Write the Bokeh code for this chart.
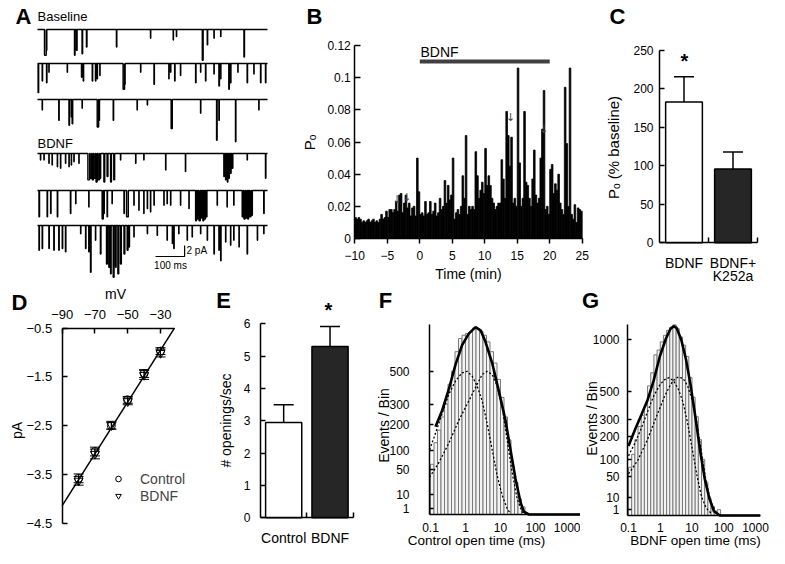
import math
from bokeh.plotting import figure
from bokeh.models import (Range1d, FixedTicker, CustomJSTickFormatter, Label,
                          ColumnDataSource, Whisker, TeeHead, Legend, LegendItem)
from bokeh.layouts import row, column
from bokeh.embed import file_html
from bokeh.resources import INLINE
from bokeh.core.properties import value

FONT = "Liberation Sans"

# ======================= DATA =======================
# Panel A: single-channel openings per sweep: (time ms, amplitude pA, duration ms)
sweep_len_ms = 790
baseline_1 = [(24, 4.7, 6), (30, 3.8, 2), (127, 4.7, 2), (134, 3.8, 2), (153, 4.4, 2), (168, 3.2, 2),
              (271, 3.2, 1.5), (388, 1.6, 1), (466, 1.9, 1), (477, 1.3, 1), (566, 5.6, 3), (583, 2.8, 1.5),
              (606, 1.6, 1), (629, 1.3, 1), (709, 5.0, 2)]
baseline_2 = [(2, 5.3, 2), (16, 3.2, 1.5), (31, 3.5, 1.5), (39, 1.6, 1), (102, 1.6, 1), (151, 2.5, 1.5),
              (157, 3.2, 1.5), (188, 3.2, 1.5), (199, 3.2, 1.5), (205, 2.8, 1), (214, 2.2, 1), (294, 4.7, 5),
              (299, 3.8, 2), (354, 1.6, 1), (400, 3.8, 1.5), (451, 2.8, 1), (457, 1.6, 1), (471, 3.2, 1.5),
              (491, 2.2, 1), (543, 3.5, 1.5), (560, 1.6, 1), (577, 3.2, 1.5), (606, 1.9, 1), (623, 4.1, 2),
              (629, 2.8, 1), (657, 4.7, 2), (663, 3.5, 1.5), (688, 1.6, 1), (720, 3.5, 1.5), (743, 1.9, 1),
              (766, 3.5, 1.5), (783, 3.5, 1.5)]
baseline_3 = [(16, 1.9, 1), (73, 3.8, 1.5), (108, 4.7, 2), (116, 3.2, 1.5), (119, 4.4, 2), (153, 1.6, 1),
              (205, 5.0, 5), (211, 3.8, 2), (260, 3.8, 1.5), (342, 1.9, 1), (377, 1.0, 1), (459, 5.3, 4),
              (560, 2.5, 1), (615, 7.4, 2), (623, 3.8, 1.5), (680, 7.7, 1.5), (760, 1.9, 1)]
bdnf_1 = [(10, 1.2, 1), (22, 1.2, 1), (39, 1.8, 1), (50, 2.1, 1), (68, 2.4, 1), (79, 2.7, 1), (96, 1.8, 1),
          (108, 2.4, 1), (116, 2.1, 1), (125, 1.5, 1), (142, 1.8, 1), (173, 4.8, 6), (181, 4.5, 5),
          (188, 4.8, 4), (194, 4.5, 5), (201, 5.2, 4), (208, 4.8, 5), (214, 4.5, 3), (228, 5.2, 3),
          (239, 4.2, 3), (251, 5.2, 3), (262, 4.8, 3), (285, 1.2, 1), (337, 1.8, 1), (365, 1.2, 1),
          (440, 3.0, 1), (508, 3.3, 1), (640, 4.2, 2), (646, 4.8, 2), (652, 5.2, 2), (657, 4.5, 2),
          (663, 3.6, 2), (669, 2.7, 2), (720, 1.2, 1), (783, 4.5, 1.5)]
bdnf_2 = [(5, 4.8, 2), (33, 4.8, 1.5), (45, 4.2, 1.5), (68, 4.8, 1.5), (113, 4.2, 1.5), (131, 2.4, 1),
          (176, 3.0, 1), (222, 5.2, 4), (228, 4.2, 1.5), (239, 4.8, 1.5), (256, 2.4, 1), (297, 4.2, 1.5),
          (306, 4.8, 6), (331, 2.7, 1), (348, 3.6, 1), (365, 4.2, 1), (377, 3.3, 1), (388, 3.9, 1),
          (400, 2.7, 1), (434, 2.7, 1), (445, 2.4, 1), (457, 2.7, 1), (491, 2.7, 1), (520, 3.3, 1),
          (543, 5.5, 3), (549, 5.2, 3), (555, 5.5, 4), (562, 5.0, 3), (568, 5.5, 3), (574, 5.2, 3),
          (580, 4.8, 2), (617, 2.7, 1), (651, 3.0, 1), (674, 2.7, 1), (703, 4.8, 4), (709, 5.2, 4),
          (716, 5.0, 4), (722, 5.2, 3), (729, 4.8, 4), (735, 4.5, 3), (777, 4.2, 1.5)]
bdnf_3 = [(5, 4.5, 1.5), (16, 4.2, 1.5), (39, 4.2, 1.5), (56, 4.5, 1.5), (73, 4.5, 1.5), (85, 4.2, 1.5),
          (96, 4.8, 1.5), (148, 1.5, 1), (165, 4.2, 1.5), (176, 4.8, 1.5), (182, 8.5, 2), (199, 2.7, 1),
          (216, 5.2, 2), (237, 7.0, 3), (245, 7.6, 3), (251, 8.8, 2), (260, 9.4, 3), (268, 7.6, 2),
          (276, 8.8, 3), (285, 7.0, 3), (297, 5.2, 3), (308, 4.5, 3), (314, 3.9, 2), (331, 2.1, 1),
          (377, 1.5, 1), (411, 1.8, 1), (445, 2.7, 1), (463, 3.3, 1), (468, 4.2, 1.5), (485, 1.5, 1),
          (514, 2.7, 1), (531, 2.1, 1), (560, 1.5, 1), (583, 2.7, 1), (606, 5.2, 1.5), (623, 4.5, 1.5),
          (629, 6.4, 1.5), (646, 3.0, 1), (663, 3.6, 1), (674, 2.7, 1), (692, 3.9, 1), (720, 5.2, 1.5),
          (755, 2.7, 1), (777, 1.5, 1)]
sweeps = [baseline_1, baseline_2, baseline_3, bdnf_1, bdnf_2, bdnf_3]
scale_ms = 100
scale_pA = 2

# Panel B: open probability in 0.25-min bins from -10 min
po_start_min = -10
po_bin_min = 0.25
po_values = [
    0.013, 0.012, 0.013, 0.012, 0.010, 0.011, 0.010, 0.011, 0.012, 0.010, 0.011, 0.012,
    0.010, 0.011, 0.010, 0.012, 0.015, 0.012, 0.013, 0.017, 0.013, 0.018, 0.018, 0.016,
    0.018, 0.023, 0.017, 0.027, 0.028, 0.016, 0.022, 0.027, 0.019, 0.022, 0.014, 0.019,
    0.020, 0.014, 0.050, 0.029, 0.015, 0.016, 0.014, 0.023, 0.015, 0.016, 0.023, 0.015,
    0.017, 0.022, 0.014, 0.016, 0.025, 0.018, 0.020, 0.036, 0.022, 0.033, 0.024, 0.027,
    0.050, 0.012, 0.016, 0.018, 0.015, 0.020, 0.039, 0.025, 0.064, 0.015, 0.020, 0.018,
    0.020, 0.018, 0.054, 0.039, 0.025, 0.030, 0.035, 0.028, 0.056, 0.033, 0.039, 0.033,
    0.025, 0.022, 0.018, 0.020, 0.022, 0.022, 0.049, 0.037, 0.025, 0.079, 0.064, 0.045,
    0.063, 0.022, 0.025, 0.020, 0.106, 0.047, 0.020, 0.025, 0.079, 0.035, 0.033, 0.025,
    0.020, 0.037, 0.055, 0.027, 0.022, 0.025, 0.050, 0.068, 0.092, 0.018, 0.020, 0.015,
    0.043, 0.046, 0.028, 0.034, 0.030, 0.040, 0.022, 0.018, 0.015, 0.094, 0.059, 0.020,
    0.106, 0.015, 0.012, 0.021, 0.010, 0.019, 0.018, 0.017]
bdnf_period_min = [0, 20]
arrow_t_min = [-3.5, -2.0, 14.0, 19.1]
arrow_po = [0.0205, 0.0215, 0.0715, 0.064]

# Panel C
c_groups = ["BDNF", "BDNF+\nK252a"]
c_mean = [183, 96]
c_sem = [33, 22]

# Panel D: I-V relation
iv_mv = [-80, -70, -60, -50, -40, -30]
iv_control = [-3.58, -3.03, -2.50, -1.97, -1.43, -0.97]
iv_control_err = [0.09, 0.09, 0.07, 0.07, 0.08, 0.07]
iv_bdnf = [-3.63, -3.08, -2.49, -2.00, -1.46, -1.01]
iv_bdnf_err = [0.09, 0.10, 0.08, 0.07, 0.09, 0.08]
iv_fit_mv = [-90, -21.5]
iv_fit_pa = [-4.14, -0.5]

# Panel E
e_groups = ["Control", "BDNF"]
e_mean = [2.95, 5.3]
e_sem = [0.55, 0.62]

# Panels F, G: open-time histograms (log bins from 0.1 ms, 10 per decade; sqrt ordinate)
hist_first_edge_ms = 0.1
hist_bins_per_decade = 10
f_counts = [62, 127, 175, 234, 300, 417, 505, 652, 762, 790, 805, 819, 854, 849, 825, 790, 733, 652,
            564, 449, 337, 234, 137, 58, 25, 6, 1.4]
f_fit_ms = [0.09, 0.139, 0.215, 0.334, 0.518, 0.80, 1.245, 1.93, 2.69, 3.72, 5.78, 8.95, 13.9, 19.3,
            26.9, 37.2, 46.5, 64.6, 372, 1900]
f_fit_n = [131, 189, 266, 386, 552, 706, 805, 863, 834, 733, 564, 376, 218, 103, 31, 3.8, 0.2, 0, 0, 0]
f_fast_ms = [0.094, 0.139, 0.215, 0.334, 0.518, 0.80, 1.117, 1.549, 2.153, 2.992, 4.159, 5.781, 8.035,
             11.17, 15.49, 19.32]
f_fast_n = [103, 162, 250, 356, 438, 494, 504, 471, 406, 318, 203, 103, 37, 9, 0.85, 0.02]
f_slow_ms = [0.094, 0.173, 0.334, 0.646, 1.245, 2.153, 2.992, 4.159, 5.781, 8.035, 11.17, 15.49, 21.53,
             29.92, 41.59, 51.76]
f_slow_n = [34, 66, 125, 218, 318, 417, 482, 504, 482, 406, 283, 137, 43, 6, 0.17, 0]
f_yticks = [1, 10, 50, 100, 200, 300, 500]
f_ymax = 885
f_xmax_ms = 1950

g_counts = [75, 121, 186, 256, 325, 392, 543, 658, 834, 885, 974, 1049, 1107, 1146, 1174, 1127, 1030,
            938, 817, 614, 452, 315, 186, 102, 36, 9.6, 2.7, 0.6, 1.1]
g_fit_ms = [0.1, 0.160, 0.251, 0.393, 0.617, 0.966, 1.514, 2.113, 2.649, 3.311, 4.645, 6.501, 9.12,
            12.74, 17.78, 25.1, 35.1, 49.0, 75.9, 1400]
g_fit_n = [156, 237, 325, 427, 585, 817, 1012, 1127, 1158, 1134, 993, 784, 543, 315, 141, 44, 9.6, 0.6, 0, 0]
g_fast_ms = [0.1, 0.160, 0.251, 0.393, 0.617, 0.966, 1.349, 1.892, 2.649, 3.715, 5.200, 7.278, 10.23,
             14.29, 19.95, 27.99, 39.17]
g_fast_n = [115, 170, 245, 345, 460, 550, 595, 614, 585, 516, 416, 275, 141, 52, 11.5, 1.8, 0.2]
g_slow_ms = [0.1, 0.2, 0.393, 0.771, 1.349, 2.113, 2.951, 3.715, 5.200, 7.278, 10.23, 14.29, 19.95,
             27.99, 39.17, 54.95, 68.5]
g_slow_n = [56, 100, 185, 320, 455, 555, 605, 619, 608, 543, 427, 275, 128, 36, 6.3, 0.57, 0]
g_yticks = [1, 10, 50, 100, 200, 300, 500, 1000]
g_ymax = 1175
g_xmax_ms = 1400
x_ticks_ms = [0.1, 1, 10, 100, 1000]


# ======================= HELPERS =======================
class Panel:
    """A figure whose frame fills its whole box; two anchor points per axis map picture px to data."""

    def __init__(self, box, xa, xb, ya, yb, xlog=False, axes=True, x_axis_location="below"):
        X0, Y0, W, H = box
        self.xlog = xlog
        f = math.log10 if xlog else (lambda v: v)
        self.kx = (f(xb[1]) - f(xa[1])) / (xb[0] - xa[0])
        self.xa = (xa[0], f(xa[1]))
        self.ky = (yb[1] - ya[1]) / (yb[0] - ya[0])
        self.ya = ya
        xr = Range1d(self.dx(X0), self.dx(X0 + W))
        yr = Range1d(self.dy(Y0 + H), self.dy(Y0))
        kw = {}
        if not axes:
            kw = dict(x_axis_type=None, y_axis_type=None)
        elif xlog:
            kw = dict(x_axis_type="log")
        self.p = figure(width=W, height=H, x_range=xr, y_range=yr, title=None,
                        min_border_left=0, min_border_right=0, min_border_top=0, min_border_bottom=0,
                        x_axis_location=x_axis_location,
                        output_backend="svg", toolbar_location=None, **kw)
        p = self.p
        p.outline_line_color = None
        p.background_fill_color = "white"
        p.border_fill_color = "white"
        p.xgrid.grid_line_color = None
        p.ygrid.grid_line_color = None

    def dx(self, rx):
        v = self.xa[1] + (rx - self.xa[0]) * self.kx
        return 10 ** v if self.xlog else v

    def px(self, x):
        return self.xa[0] + (x - self.xa[1]) / self.kx

    def dy(self, ry):
        return self.ya[1] + (ry - self.ya[0]) * self.ky

    def label(self, text, rx, ry, size="14px", bold=False, angle=0.0, align="center",
              baseline="middle", font=FONT):
        self.p.add_layout(Label(x=self.dx(rx), y=self.dy(ry), text=text, text_font=font,
                                text_font_size=size, text_font_style=("bold" if bold else "normal"),
                                angle=angle, text_align=align, text_baseline=baseline,
                                text_color="black"))


def style_axis(ax, at, bounds, size="12px", tin=0, tout=0, standoff=5):
    ax.fixed_location = at
    ax.bounds = bounds
    ax.axis_line_width = 1.5
    ax.axis_line_color = "black"
    ax.major_tick_line_width = 1.5
    ax.major_tick_line_color = "black"
    ax.major_tick_in = tin
    ax.major_tick_out = tout
    ax.minor_tick_line_color = None
    ax.major_label_text_font = FONT
    ax.major_label_text_font_size = size
    ax.major_label_text_color = "black"
    ax.major_label_standoff = standoff


def letter(pan, t, rx, ry):
    pan.label(t, rx, ry, size="22px", bold=True)


def category_axis(pan, ax, centers, groups, label_y, line_gap):
    ax.ticker = FixedTicker(ticks=centers, minor_ticks=[1, 2])
    ax.minor_tick_line_color = "black"
    ax.minor_tick_line_width = 1.5
    ax.minor_tick_in = 5
    ax.minor_tick_out = 0
    ax.major_label_overrides = {c: "" for c in centers}
    for c, g in zip(centers, groups):
        for j, part in enumerate(g.split("\n")):
            pan.label(part, pan.px(c), label_y + j * line_gap, size="14px")


# ======================= PANEL A =======================
A = Panel((0, 0, 300, 285), (37, 0), (267, sweep_len_ms), (8, 0), (63, -10), axes=False)
sweep_base_px = [29, 63, 99, 153, 190, 225]


def sweep_path(events, offset):
    xs, ys = [0.0], [offset]
    for t, a, d in sorted(events):
        xs += [t, t, t + d, t + d]
        ys += [offset, offset - a, offset - a, offset]
    xs.append(sweep_len_ms)
    ys.append(offset)
    return xs, ys


for ev, bpx in zip(sweeps, sweep_base_px):
    xs, ys = sweep_path(ev, A.dy(bpx))
    A.p.line(xs, ys, line_color="black", line_width=1.4)

sb_x, sb_y = A.dx(155), A.dy(256)
A.p.line([sb_x, sb_x + scale_ms, sb_x + scale_ms], [sb_y, sb_y, sb_y + scale_pA],
         line_color="black", line_width=1.2)
letter(A, "A", 23, 16)
A.label("Baseline", 37, 16, size="13px", align="left")
A.label("BDNF", 37, 143, size="13px", align="left")
A.label(f"{scale_pA} pA", 186, 250, size="10px", align="left")
A.label(f"{scale_ms} ms", 170, 265, size="10px")

# ======================= PANEL B =======================
B = Panel((300, 0, 300, 285), (354.3, -10), (581.7, 25), (238, 0), (45, 0.12))
pb = B.p
centers = [po_start_min + po_bin_min * (i + 0.5) for i in range(len(po_values))]
pb.vbar(x=centers, top=po_values, width=po_bin_min, fill_color="black", line_color="black",
        line_width=0.8)
bar_y = B.dy(61)
pb.segment(x0=[bdnf_period_min[0]], y0=[bar_y], x1=[bdnf_period_min[1]], y1=[bar_y],
           line_width=4, line_color="#404040")
pb.text(x=arrow_t_min, y=arrow_po, text=["\u2193"] * len(arrow_t_min), text_font=value("DejaVu Sans"),
        text_font_size="11px", text_align="center", text_baseline="bottom", text_color="#444444")
style_axis(pb.yaxis[0], -10, (0, 0.12), tin=6, tout=0, standoff=4)
pb.yaxis.ticker = FixedTicker(ticks=[0, 0.02, 0.04, 0.06, 0.08, 0.1, 0.12])
pb.yaxis.formatter = CustomJSTickFormatter(code="return String(Math.round(tick*1000)/1000)")
style_axis(pb.xaxis[0], 0, (-10, 25), tin=0, tout=5, standoff=7)
pb.xaxis.ticker = FixedTicker(ticks=[-10, -5, 0, 5, 10, 15, 20, 25])
letter(B, "B", 314, 16)
B.label("BDNF", 420, 51, size="14px", align="left")
B.label("Time (min)", 468, 273, size="14px")
B.label("P\u2092", 309, 142, size="15px", angle=math.pi / 2)

# ======================= PANEL C =======================
C = Panel((600, 0, 169, 285), (659, 0), (757, 2), (242.3, 0), (50, 250))
pc = C.p
cx = [0.5, 1.5]
pc.vbar(x=cx, top=c_mean, width=0.75, fill_color=["white", "#262626"], line_color="black",
        line_width=1.5)
c_src = ColumnDataSource(dict(x=cx, lo=c_mean, hi=[m + s for m, s in zip(c_mean, c_sem)]))
pc.add_layout(Whisker(source=c_src, base="x", lower="lo", upper="hi", line_width=1.5,
                      upper_head=TeeHead(size=20, line_width=1.5), lower_head=None))
style_axis(pc.yaxis[0], 0, (0, 250), tin=5, tout=0, standoff=6)
pc.yaxis.ticker = FixedTicker(ticks=[0, 50, 100, 150, 200, 250])
style_axis(pc.xaxis[0], 0, (0, 2), size="14px", standoff=12)
category_axis(C, pc.xaxis[0], cx, c_groups, 262, 13.5)
letter(C, "C", 617, 16)
C.label("*", 684, 60, size="20px", bold=True)
C.label("P\u2092 (% baseline)", 613, 147, size="15px", angle=math.pi / 2)

# ======================= PANEL D =======================
D = Panel((0, 285, 200, 263), (61.7, -90), (160, -30), (327.7, -0.5), (522.7, -4.5),
          x_axis_location="above")
pd = D.p
pd.line(iv_fit_mv, iv_fit_pa, line_color="black", line_width=1.5)
for vals, errs in ((iv_control, iv_control_err), (iv_bdnf, iv_bdnf_err)):
    src = ColumnDataSource(dict(x=iv_mv, lo=[v - e for v, e in zip(vals, errs)],
                                hi=[v + e for v, e in zip(vals, errs)]))
    pd.add_layout(Whisker(source=src, base="x", lower="lo", upper="hi", line_width=1,
                          upper_head=TeeHead(size=10, line_width=1),
                          lower_head=TeeHead(size=10, line_width=1)))
r_c = pd.scatter(iv_mv, iv_control, marker="circle", size=8, fill_alpha=0, line_color="black",
                 line_width=1)
r_b = pd.scatter(iv_mv, iv_bdnf, marker="inverted_triangle", size=9, fill_alpha=0,
                 line_color="black", line_width=1)
style_axis(pd.yaxis[0], -90, (-4.5, -0.5), size="13px", tin=5, tout=0, standoff=10)
pd.yaxis.ticker = FixedTicker(ticks=[-0.5, -1.5, -2.5, -3.5, -4.5])
style_axis(pd.xaxis[0], -0.5, (-90, -21.5), size="13px", tin=5, tout=0, standoff=9)
pd.xaxis.ticker = FixedTicker(ticks=[-90, -70, -50, -30])
leg = Legend(items=[LegendItem(label="Control", renderers=[r_c]),
                    LegendItem(label="BDNF", renderers=[r_b])],
             location=(111, 44), border_line_color=None, background_fill_alpha=0,
             padding=0, margin=0, spacing=0, glyph_width=14, glyph_height=17, label_height=17,
             label_standoff=15, label_text_font=FONT, label_text_font_size="14px")
pd.add_layout(leg)
letter(D, "D", 19, 302)
D.label("mV", 115, 293, size="14px")
D.label("pA", 16, 430, size="14px", angle=math.pi / 2)

# ======================= PANEL E =======================
E = Panel((200, 285, 170, 263), (260, 0), (352.7, 2), (517.3, 0), (323.3, 6))
pe = E.p
ex = [0.5, 1.5]
pe.vbar(x=ex, top=e_mean, width=0.78, fill_color=["white", "#262626"], line_color="black",
        line_width=1.5)
e_src = ColumnDataSource(dict(x=ex, lo=e_mean, hi=[m + s for m, s in zip(e_mean, e_sem)]))
pe.add_layout(Whisker(source=e_src, base="x", lower="lo", upper="hi", line_width=1.5,
                      upper_head=TeeHead(size=20, line_width=1.5), lower_head=None))
style_axis(pe.yaxis[0], 0, (0, 6), tin=5, tout=0, standoff=10)
pe.yaxis.ticker = FixedTicker(ticks=[0, 1, 2, 3, 4, 5, 6])
style_axis(pe.xaxis[0], 0, (0, 2), size="14px", standoff=13)
category_axis(E, pe.xaxis[0], ex, e_groups, 537, 13.5)
letter(E, "E", 223, 300)
E.label("*", 328, 309, size="20px", bold=True)
E.label("# openings/sec", 225, 420, size="14px", angle=math.pi / 2)


# ======================= PANELS F, G =======================
def hist_panel(box, xa, xb, y0px, ytop_px, ymax, xmax, counts, fit, fast, slow, yticks,
               ystandoff, xstandoff):
    pan = Panel(box, xa, xb, (y0px, 0), (ytop_px, math.sqrt(ymax)), xlog=True)
    p = pan.p
    edges = [hist_first_edge_ms * 10 ** (k / hist_bins_per_decade) for k in range(len(counts) + 1)]
    p.quad(left=edges[:-1], right=edges[1:], bottom=0, top=[math.sqrt(c) for c in counts],
           fill_color="#f3f3f3", line_color="#7a7a7a", line_width=1)
    xl = pan.dx(xa[0] - 1)
    for (ts, ns), dash, lw in ((fast, "2 2", 1.3), (slow, "2 2", 1.3), (fit, "solid", 2.6)):
        pts = [(t, math.sqrt(n)) for t, n in zip(ts, ns) if xl <= t <= xmax]
        p.line([q[0] for q in pts], [q[1] for q in pts], line_color="black", line_width=lw,
               line_dash=dash)
    style_axis(p.yaxis[0], xl, (0, math.sqrt(ymax)), tin=4, tout=0, standoff=ystandoff)
    p.yaxis.ticker = FixedTicker(ticks=[math.sqrt(v) for v in yticks])
    p.yaxis.formatter = CustomJSTickFormatter(code="return String(Math.round(tick*tick))")
    style_axis(p.xaxis[0], 0, (xl, xmax), tin=0, tout=0, standoff=xstandoff)
    p.xaxis.ticker = FixedTicker(ticks=x_ticks_ms)
    p.xaxis.formatter = CustomJSTickFormatter(code="return String(tick)")
    return pan


F = hist_panel((370, 285, 210, 263), (430, 0.1), (570, 1000), 514, 324.3, f_ymax, f_xmax_ms,
               f_counts, (f_fit_ms, f_fit_n), (f_fast_ms, f_fast_n), (f_slow_ms, f_slow_n),
               f_yticks, 20, 8)
letter(F, "F", 385, 300)
F.label("Events / Bin", 383, 425, size="14px", angle=math.pi / 2)
F.label("Control open time (ms)", 476, 540, size="13.5px")

G = hist_panel((580, 285, 189, 263), (628, 0.1), (755, 1000), 515, 324.3, g_ymax, g_xmax_ms,
               g_counts, (g_fit_ms, g_fit_n), (g_fast_ms, g_fast_n), (g_slow_ms, g_slow_n),
               g_yticks, 8, 7)
letter(G, "G", 590, 300)
G.label("Events / Bin", 591, 418, size="14px", angle=math.pi / 2)
G.label("BDNF open time (ms)", 695, 540, size="13.5px")

layout = column(row(A.p, B.p, C.p, spacing=0), row(D.p, E.p, F.p, G.p, spacing=0), spacing=0)
open("out.html", "w").write(file_html(layout, INLINE))
